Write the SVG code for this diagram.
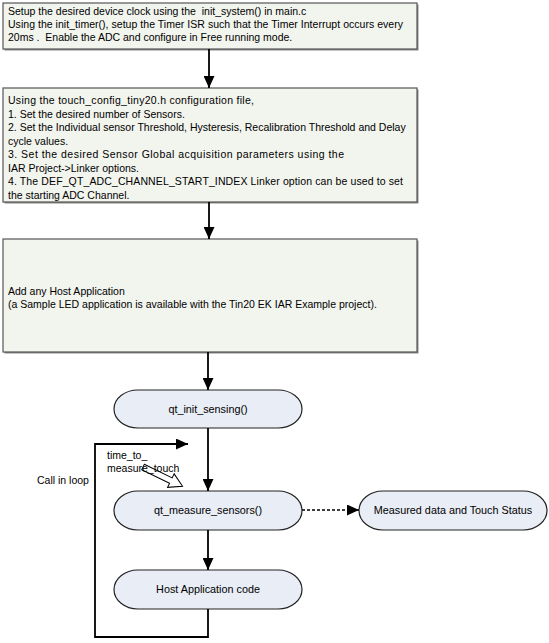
<svg xmlns="http://www.w3.org/2000/svg" width="549" height="643" viewBox="0 0 549 643">
<style>
text{font-family:"Liberation Sans",Arial,sans-serif;font-size:10.5px;fill:#000;white-space:pre}
.box{fill:#F2F4EE;stroke:#555;stroke-width:1.2}
.shadow{fill:#8a8a8a}
.pill{fill:#E9EDF5;stroke:#222;stroke-width:1.2}
.pt{font-size:10.8px}
.line{fill:none;stroke:#000;stroke-width:1.8}
.dash{fill:none;stroke:#000;stroke-width:1.5;stroke-dasharray:3,2}
.c{text-anchor:middle}
</style>
<defs>
<marker id="ah" markerUnits="userSpaceOnUse" markerWidth="12" markerHeight="11" refX="12" refY="5.5" orient="auto">
<path d="M0,0 L12,5.5 L0,11 z" fill="#000"/>
</marker>
</defs>
<rect width="549" height="643" fill="#fff"/>
<g id="box1">
<rect class="shadow" x="4.5" y="4.5" width="414" height="46"/>
<rect class="box" x="3" y="3" width="414" height="46"/>
<text x="8" y="15">Setup the desired device clock using the  init_system() in main.c</text>
<text x="8" y="28" textLength="395" lengthAdjust="spacing">Using the init_timer(), setup the Timer ISR such that the Timer Interrupt occurs every</text>
<text x="8" y="41">20ms .  Enable the ADC and configure in Free running mode.</text>
</g>
<g id="box2">
<rect class="shadow" x="4.5" y="89.5" width="414" height="114"/>
<rect class="box" x="3" y="88" width="414" height="114"/>
<text x="8" y="104" textLength="246" lengthAdjust="spacing">Using the touch_config_tiny20.h configuration file,</text>
<text x="8" y="117.5">1. Set the desired number of Sensors.</text>
<text x="8" y="131">2. Set the Individual sensor Threshold, Hysteresis, Recalibration Threshold and Delay</text>
<text x="8" y="144.5">cycle values.</text>
<text x="8" y="158" textLength="336" lengthAdjust="spacing">3. Set the desired Sensor Global acquisition parameters using the</text>
<text x="8" y="171.5">IAR Project-&gt;Linker options.</text>
<text x="8" y="185" textLength="395" lengthAdjust="spacing">4. The DEF_QT_ADC_CHANNEL_START_INDEX Linker option can be used to set</text>
<text x="8" y="198.5">the starting ADC Channel.</text>
</g>
<g id="box3">
<rect class="shadow" x="4.5" y="240.5" width="414" height="113"/>
<rect class="box" x="3" y="239" width="414" height="113"/>
<text x="8" y="295">Add any Host Application</text>
<text x="8" y="308">(a Sample LED application is available with the Tin20 EK IAR Example project).</text>
</g>
<g id="init">
<rect class="pill" x="114" y="390" width="188" height="38" rx="24" ry="19"/>
<text class="c pt" x="208" y="413">qt_init_sensing()</text>
</g>
<g id="measure">
<rect class="pill" x="114" y="491" width="188" height="39" rx="24" ry="19.5"/>
<text class="c pt" x="208" y="514">qt_measure_sensors()</text>
</g>
<g id="host">
<rect class="pill" x="114" y="570" width="188" height="39" rx="24" ry="19.5"/>
<text class="c pt" x="208" y="593">Host Application code</text>
</g>
<g id="status">
<rect class="pill" x="359" y="491" width="188" height="39" rx="24" ry="19.5"/>
<text class="c pt" x="453" y="514">Measured data and Touch Status</text>
</g>
<g id="connectors">
<line class="line" x1="209" y1="49" x2="209" y2="88" marker-end="url(#ah)"/>
<line class="line" x1="209" y1="202" x2="209" y2="239" marker-end="url(#ah)"/>
<line class="line" x1="208" y1="352" x2="208" y2="390" marker-end="url(#ah)"/>
<line class="line" x1="208" y1="428" x2="208" y2="491" marker-end="url(#ah)"/>
<line class="line" x1="208" y1="530" x2="208" y2="570" marker-end="url(#ah)"/>
<polyline class="line" points="208,609 208,637 95,637 95,444 188,444" marker-end="url(#ah)"/>
<line class="dash" x1="302" y1="510" x2="359" y2="510" marker-end="url(#ah)"/>
<polygon transform="translate(143,467) rotate(26)" points="0,-3 31,-3 31,-7.5 44,0 31,7.5 31,3 0,3" fill="#fff" stroke="#000" stroke-width="1"/>
</g>
<g id="labels">
<text x="107" y="459">time_to_</text>
<text x="107" y="472">measure_touch</text>
<text x="37" y="484">Call in loop</text>
</g>
</svg>
